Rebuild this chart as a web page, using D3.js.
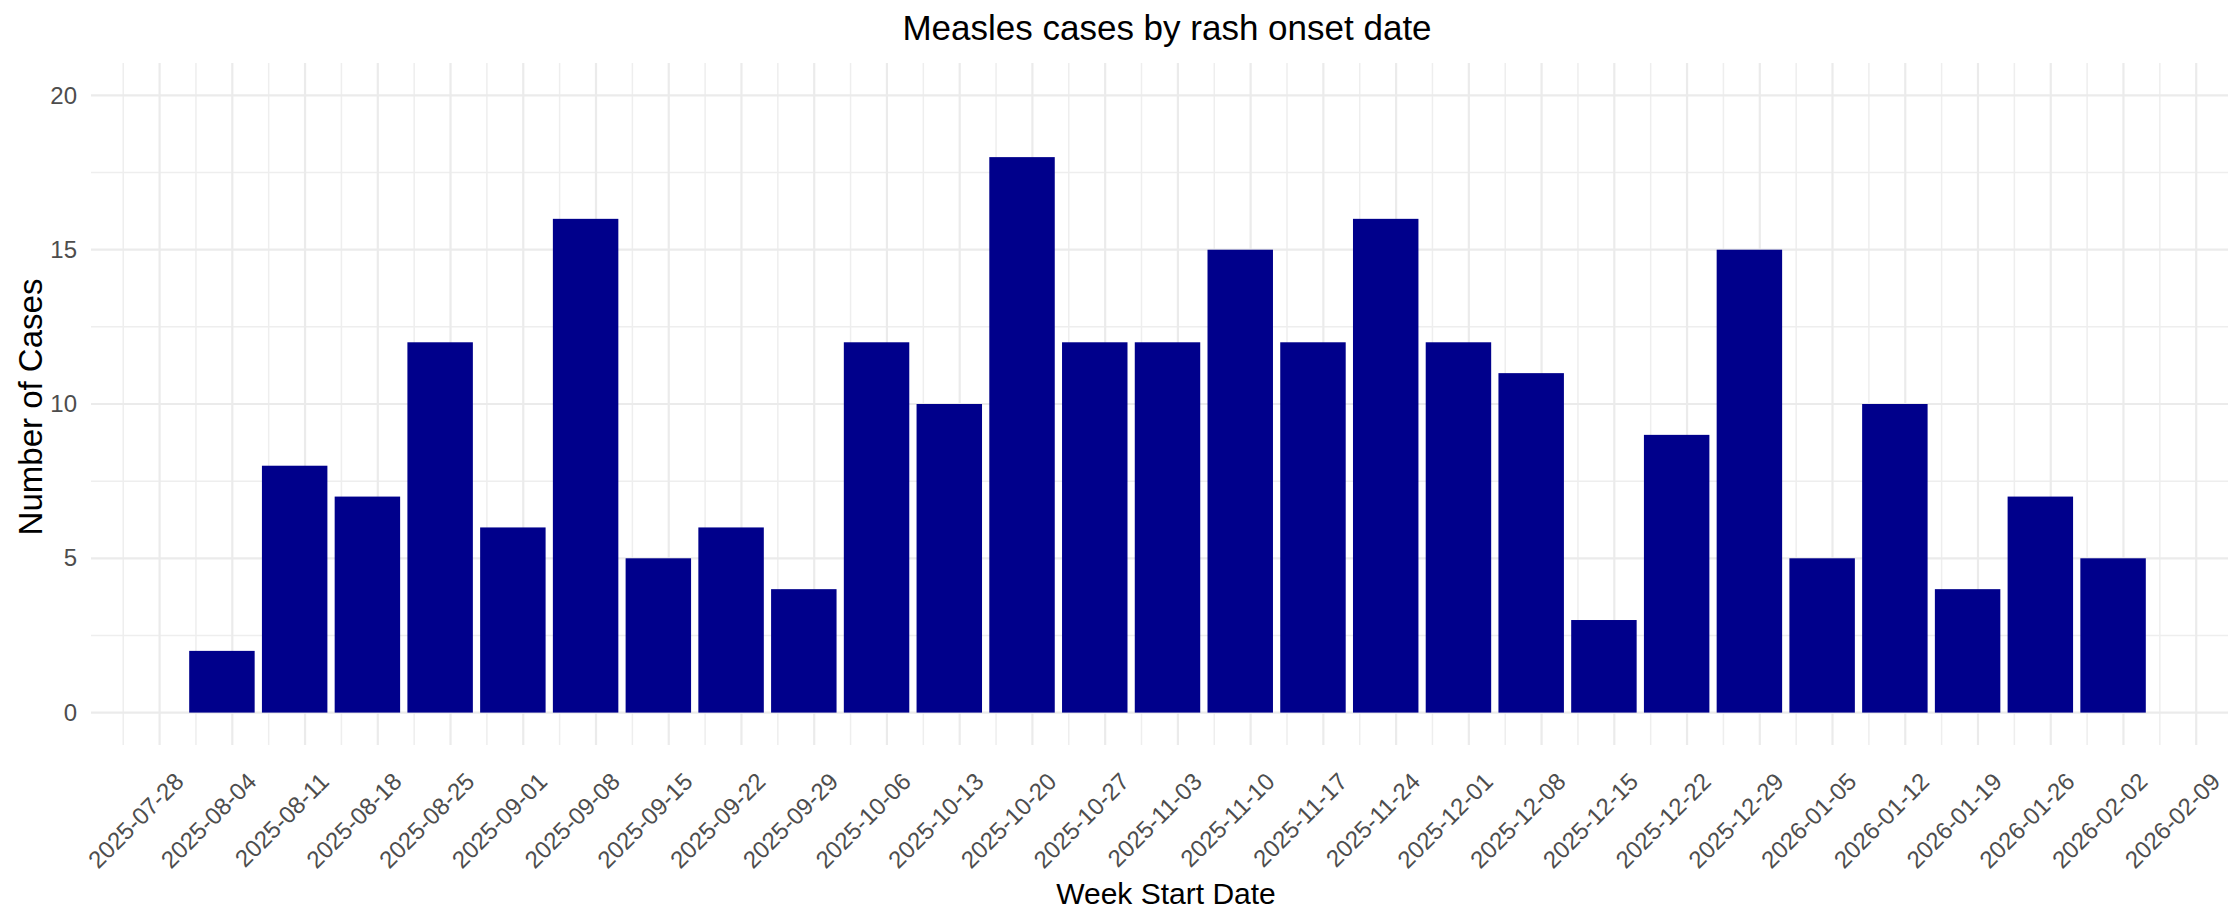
<!DOCTYPE html>
<html><head><meta charset="utf-8">
<script src="https://cdn.jsdelivr.net/npm/d3@7"></script>
<style>
body{margin:0;background:#fff;}
text{font-family:"Liberation Sans",Arial,Helvetica,sans-serif;}
</style>
</head><body>
<svg id="chart" width="2228" height="909"></svg>
<script>
// ---- data ----
const tickWeeks = ["2025-07-28","2025-08-04","2025-08-11","2025-08-18","2025-08-25","2025-09-01","2025-09-08","2025-09-15","2025-09-22","2025-09-29","2025-10-06","2025-10-13","2025-10-20","2025-10-27","2025-11-03","2025-11-10","2025-11-17","2025-11-24","2025-12-01","2025-12-08","2025-12-15","2025-12-22","2025-12-29","2026-01-05","2026-01-12","2026-01-19","2026-01-26","2026-02-02","2026-02-09"];
const barWeeks = ["2025-08-04","2025-08-11","2025-08-18","2025-08-25","2025-09-01","2025-09-08","2025-09-15","2025-09-22","2025-09-29","2025-10-06","2025-10-13","2025-10-20","2025-10-27","2025-11-03","2025-11-10","2025-11-17","2025-11-24","2025-12-01","2025-12-08","2025-12-15","2025-12-22","2025-12-29","2026-01-05","2026-01-12","2026-01-19","2026-01-26","2026-02-02"];
const cases = [2,8,7,12,6,16,5,6,4,12,10,18,12,12,15,12,16,12,11,3,9,15,5,10,4,7,5];
const yTicks = [0,5,10,15,20];
const yMinorTicks = [2.5,7.5,12.5,17.5];
const titleText = "Measles cases by rash onset date";
const xTitle = "Week Start Date";
const yTitle = "Number of Cases";

// ---- layout ----
const W = 2228, H = 909;
const panel = {left: 91, right: 2244, top: 63, bottom: 745};
const parse = d3.utcParse("%Y-%m-%d");
const DAY = 864e5;
const t0 = parse(tickWeeks[0]);
const xDomain = [new Date(+t0 - 6.6*DAY), new Date(+t0 + 200.6*DAY)];
const x = d3.scaleUtc().domain(xDomain).range([panel.left, panel.right]);
const y = d3.scaleLinear().domain([-1.05, 21.05]).range([panel.bottom, panel.top]);

const svg = d3.select("#chart");
svg.append("rect").attr("width", W).attr("height", H).attr("fill", "#fff");

const clipW = Math.min(panel.right, W);
const grid = svg.append("g");
// horizontal minor grid
grid.selectAll(".hmin").data(yMinorTicks).join("line")
  .attr("x1", panel.left).attr("x2", clipW)
  .attr("y1", d => y(d)).attr("y2", d => y(d))
  .attr("stroke", "#EEEEEE").attr("stroke-width", 1.5);
// vertical minor grid (midweeks)
const tickDates = tickWeeks.map(parse);
const minorDates = [new Date(+tickDates[0] - 3.5*DAY)].concat(tickDates.map(d => new Date(+d + 3.5*DAY)));
grid.selectAll(".vmin").data(minorDates.filter(d => x(d) >= panel.left && x(d) <= W)).join("line")
  .attr("x1", d => x(d)).attr("x2", d => x(d))
  .attr("y1", panel.top).attr("y2", panel.bottom)
  .attr("stroke", "#EEEEEE").attr("stroke-width", 1.5);
// horizontal major grid
grid.selectAll(".hmaj").data(yTicks).join("line")
  .attr("x1", panel.left).attr("x2", clipW)
  .attr("y1", d => y(d)).attr("y2", d => y(d))
  .attr("stroke", "#EBEBEB").attr("stroke-width", 2.2);
// vertical major grid
grid.selectAll(".vmaj").data(tickDates).join("line")
  .attr("x1", d => x(d)).attr("x2", d => x(d))
  .attr("y1", panel.top).attr("y2", panel.bottom)
  .attr("stroke", "#EBEBEB").attr("stroke-width", 2.2);

// bars (drawn one day before the Monday tick, as in the source)
const weekPx = x(new Date(+t0 + 7*DAY)) - x(t0);
const bw = 0.9 * weekPx;
svg.append("g").selectAll("rect").data(barWeeks.map((w, i) => ({d: parse(w), v: cases[i]})))
  .join("rect")
  .attr("x", d => x(new Date(+d.d - DAY)) - bw/2)
  .attr("width", bw)
  .attr("y", d => y(d.v))
  .attr("height", d => y(0) - y(d.v))
  .attr("fill", "#00008B");

// y axis
const yAxis = svg.append("g").attr("transform", `translate(${panel.left},0)`)
  .call(d3.axisLeft(y).tickValues(yTicks).tickSize(0).tickPadding(14).tickFormat(d3.format("d")));
yAxis.select(".domain").remove();
yAxis.selectAll("text").attr("fill", "#4D4D4D").attr("font-size", 24)
  .style("font-family", '"Liberation Sans",Arial,sans-serif');

// x axis
const xAxis = svg.append("g").attr("transform", `translate(0,${panel.bottom})`)
  .call(d3.axisBottom(x).tickValues(tickDates).tickSize(0).tickFormat(d3.utcFormat("%Y-%m-%d")));
xAxis.select(".domain").remove();
xAxis.selectAll("text")
  .attr("fill", "#4D4D4D").attr("font-size", 24)
  .style("font-family", '"Liberation Sans",Arial,sans-serif')
  .attr("text-anchor", "end")
  .attr("x", 25).attr("y", 38).attr("dy", 0)
  .attr("transform", "rotate(-45,25,38)");

// titles
svg.append("text").attr("x", 1167).attr("y", 40).attr("text-anchor", "middle")
  .attr("font-size", 35).attr("fill", "#000").text(titleText);
svg.append("text").attr("x", 1166).attr("y", 904).attr("text-anchor", "middle")
  .attr("font-size", 30).attr("fill", "#000").text(xTitle);
svg.append("text").attr("transform", "translate(42,407) rotate(-90)").attr("text-anchor", "middle")
  .attr("font-size", 33).attr("fill", "#000").text(yTitle);
</script>
</body></html>
